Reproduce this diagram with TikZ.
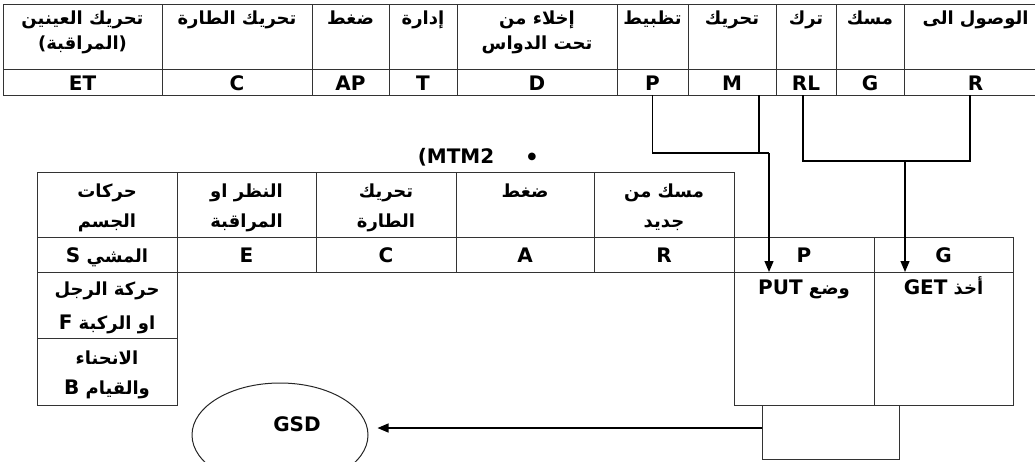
\documentclass[tikz,border=0pt]{standalone}
\usepackage{fontspec}
\setmainfont{DejaVu Sans}
\newfontfamily\arfont[Script=Arabic]{DejaVu Sans}
\TeXXeTstate=1
\usetikzlibrary{arrows.meta,shapes.geometric}
\newcommand\fs{\fontsize{20}{24}\selectfont\bfseries}
\newcommand\AR[1]{{\arfont\fontsize{18}{22}\selectfont\beginR #1\endR}}
\newcommand\LT[1]{{\fontsize{20}{24}\selectfont #1}}
\newcommand\cellat[5]{\node[cell,minimum width={(#4-#2)*1pt},minimum height={(#5-#3)*1pt}] (#1) at ({(#2+#4)/2},{(#3+#5)/2}) {};}
\newcommand\tx[4]{\node[tx] (#1) at (#2,#3) {#4};}
\begin{document}
\begin{tikzpicture}[x=1pt,y=-1pt,
  cell/.style={draw=black!80,line width=0.9pt,rectangle,inner sep=0pt,outer sep=0pt},
  tx/.style={font=\fs,inner sep=0pt,anchor=base},
  conn/.style={draw=black,line width=1.3pt},
  tip/.style={-{Triangle[length=11pt,width=9pt]}}]
\path[use as bounding box] (0,0) rectangle (1035,461);
\clip (0,0) rectangle (1035,461);
% ---------- top table ----------
\cellat{hET}{3}{4}{162}{69.5}\cellat{vET}{3}{69.5}{162}{95}
\cellat{hC}{162}{4}{312}{69.5}\cellat{vC}{162}{69.5}{312}{95}
\cellat{hAP}{312}{4}{389}{69.5}\cellat{vAP}{312}{69.5}{389}{95}
\cellat{hT}{389}{4}{457}{69.5}\cellat{vT}{389}{69.5}{457}{95}
\cellat{hD}{457}{4}{617}{69.5}\cellat{vD}{457}{69.5}{617}{95}
\cellat{hP}{617}{4}{688}{69.5}\cellat{vP}{617}{69.5}{688}{95}
\cellat{hM}{688}{4}{776}{69.5}\cellat{vM}{688}{69.5}{776}{95}
\cellat{hRL}{776}{4}{836}{69.5}\cellat{vRL}{776}{69.5}{836}{95}
\cellat{hG}{836}{4}{904}{69.5}\cellat{vG}{836}{69.5}{904}{95}
\cellat{hR}{904}{4}{1047}{69.5}\cellat{vR}{904}{69.5}{1047}{95}
\tx{a1}{82.5}{24}{\AR{تحريك العينين}}
\tx{a2}{82.5}{49}{\AR{(المراقبة)}}
\tx{a3}{237}{24}{\AR{تحريك الطارة}}
\tx{a4}{350.5}{24}{\AR{ضغط}}
\tx{a5}{423}{24}{\AR{إدارة}}
\tx{a6}{537}{24}{\AR{إخلاء من}}
\tx{a7}{537}{49}{\AR{تحت الدواس}}
\tx{a8}{652.5}{24}{\AR{تظبيط}}
\tx{a9}{732}{24}{\AR{تحريك}}
\tx{a10}{806}{24}{\AR{ترك}}
\tx{a11}{870}{24}{\AR{مسك}}
\tx{a12}{975.5}{24}{\AR{الوصول الى}}
\tx{b1}{82.5}{90}{ET}
\tx{b2}{237}{90}{C}
\tx{b3}{350.5}{90}{AP}
\tx{b4}{423}{90}{T}
\tx{b5}{537}{90}{D}
\tx{b6}{652.5}{90}{P}
\tx{b7}{732}{90}{M}
\tx{b8}{806}{90}{RL}
\tx{b9}{870}{90}{G}
\tx{b10}{975.5}{90}{R}
% ---------- title ----------
\tx{mtm}{456}{163}{(MTM2}
\node[inner sep=0pt,font=\fontsize{10}{12}\selectfont] (bul) at (532,157) {●};
% ---------- middle table ----------
\cellat{mS}{37}{172}{177}{237}\cellat{nS}{37}{237}{177}{272}
\cellat{mE}{177}{172}{316}{237}\cellat{nE}{177}{237}{316}{272}
\cellat{mC}{316}{172}{456}{237}\cellat{nC}{316}{237}{456}{272}
\cellat{mA}{456}{172}{594}{237}\cellat{nA}{456}{237}{594}{272}
\cellat{mR}{594}{172}{734}{237}\cellat{nR}{594}{237}{734}{272}
\tx{c1}{107}{197}{\AR{حركات}}
\tx{c2}{107}{227}{\AR{الجسم}}
\tx{c3}{246.5}{197}{\AR{النظر او}}
\tx{c4}{246.5}{227}{\AR{المراقبة}}
\tx{c5}{386}{197}{\AR{تحريك}}
\tx{c6}{386}{227}{\AR{الطارة}}
\tx{c7}{525}{197}{\AR{ضغط}}
\tx{c8}{664}{197}{\AR{مسك من}}
\tx{c9}{664}{227}{\AR{جديد}}
\tx{d1}{107}{262}{\AR{المشي \LT{S}}}
\tx{d2}{246.5}{262}{E}
\tx{d3}{386}{262}{C}
\tx{d4}{525}{262}{A}
\tx{d5}{664}{262}{R}
% left column
\cellat{lF}{37}{272}{177}{338}
\cellat{lB}{37}{338}{177}{405}
\tx{e1}{107}{295}{\AR{حركة الرجل}}
\tx{e2}{107}{329}{\AR{او الركبة \LT{F}}}
\tx{e3}{107}{364}{\AR{الانحناء}}
\tx{e4}{107}{394}{\AR{والقيام \LT{B}}}
% ---------- right table ----------
\cellat{rP}{734}{237}{874}{272}\cellat{rG}{874}{237}{1013}{272}
\cellat{rPut}{734}{272}{874}{405}\cellat{rGet}{874}{272}{1013}{405}
\tx{f1}{804}{262}{P}
\tx{f2}{943.5}{262}{G}
\tx{f3}{804}{294}{\AR{وضع \LT{PUT}}}
\tx{f4}{943.5}{294}{\AR{أخذ \LT{GET}}}
\cellat{sbox}{762}{405}{899}{459}
% ---------- ellipse ----------
\node[draw=black!85,line width=1pt,ellipse,minimum width=176pt,minimum height=104pt,inner sep=0pt] (gsd) at (280,435) {};
\tx{g1}{297}{431}{GSD}
% ---------- connectors ----------
\coordinate (j1) at (652.5,153);
\coordinate (j2) at (769,153);
\coordinate (k1) at (803,161);
\coordinate (k2) at (970,161);
\coordinate (k3) at (905,161);
\draw[conn] (vP.south) -- (j1) -- (j2);
\draw[conn] (vM.south -| j2) ++(-10,0) coordinate (mtop) -- (mtop |- j1);
\draw[conn,tip] (j2) -- (j2 |- rPut.north);
\draw[conn] (vRL.south -| k1) -- (k1) -- (k2) -- (vR.south -| k2);
\draw[conn,tip] (k3) -- (k3 |- rGet.north);
\draw[conn,tip,shorten >=9pt] (sbox.west |- 0,428) -- (gsd.east |- 0,428);
\end{tikzpicture}
\end{document}
